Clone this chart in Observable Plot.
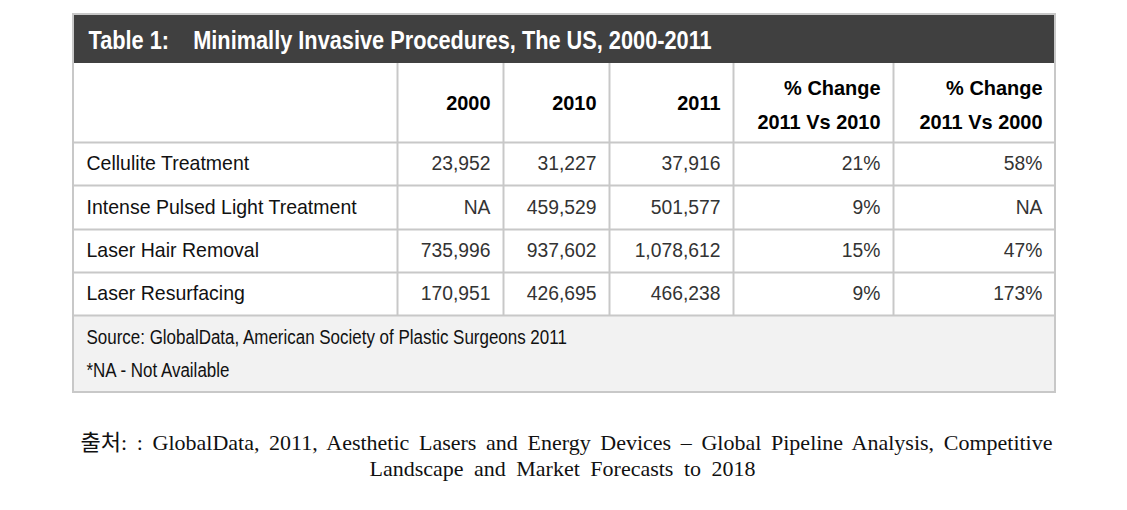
<!DOCTYPE html>
<html>
<head>
<meta charset="utf-8">
<script src="https://cdn.jsdelivr.net/npm/d3@7"></script>
<script src="https://cdn.jsdelivr.net/npm/@observablehq/plot@0.6"></script>
<style>
  html, body { margin: 0; padding: 0; background: #fff; }
</style>
</head>
<body>
<div id="chart"></div>
<script>
// ---- data ----
const title = "Table 1:    Minimally Invasive Procedures, The US, 2000-2011";
const columnHeaders = ["", "2000", "2010", "2011", "% Change\n2011 Vs 2010", "% Change\n2011 Vs 2000"];
const procedures = ["Cellulite Treatment", "Intense Pulsed Light Treatment", "Laser Hair Removal", "Laser Resurfacing"];
const values2000 = [23952, null, 735996, 170951];
const values2010 = [31227, 459529, 937602, 426695];
const values2011 = [37916, 501577, 1078612, 466238];
const change2011vs2010 = [21, 9, 15, 9];
const change2011vs2000 = [58, null, 47, 173];
const notes = ["Source: GlobalData, American Society of Plastic Surgeons 2011", "*NA - Not Available"];
const captionLines = [
  "출처: : GlobalData, 2011, Aesthetic Lasers and Energy Devices – Global Pipeline Analysis, Competitive",
  "Landscape and Market Forecasts to 2018"
];

// ---- layout (pixels) ----
const W = 1127, H = 510;
const colEdges = [73, 397, 503, 609, 733, 893, 1055];
const tableTop = 14, titleBottom = 63;
const rowEdges = [63, 142, 185, 229, 272, 315];
const tableBottom = 392;
const pad = 13;
const sans = "'Liberation Sans', Arial, sans-serif";
const grid = "#c8c8c8";

const fmtNum = v => v == null ? "NA" : d3.format(",")(v);
const fmtPct = v => v == null ? "NA" : v + "%";

// build cell table
const cells = [];
procedures.forEach((p, i) => {
  const yc = (rowEdges[i + 1] + rowEdges[i + 2]) / 2;
  cells.push({x: colEdges[0] + pad, y: yc - 0.5, text: p, fill: "#111"});
  const vals = [fmtNum(values2000[i]), fmtNum(values2010[i]), fmtNum(values2011[i]), fmtPct(change2011vs2010[i]), fmtPct(change2011vs2000[i])];
  vals.forEach((t, j) => cells.push({x: colEdges[j + 2] - pad, y: yc - 0.5, text: t, fill: "#333"}));
});
const headerMid = (rowEdges[0] + rowEdges[1]) / 2;
const headerCells = columnHeaders
  .map((h, j) => ({x: colEdges[j + 1] - pad, y: h.includes("\n") ? headerMid - 2 : headerMid - 3.5, text: h}))
  .filter(d => d.text);
const hLines = rowEdges.slice(1).map(y => ({y}));
const vLines = colEdges.slice(1, -1).map(x => ({x}));
const noteRows = notes.map((t, i) => ({x: colEdges[0] + pad, y: 337 + i * 33, text: t}));
const captionRows = captionLines.map((t, i) => ({text: t, y: 442 + i * 26}));

const chart = Plot.plot({
  width: W, height: H, margin: 0,
  x: {type: "identity", axis: null},
  y: {type: "identity", axis: null},
  style: {background: "#fff"},
  marks: [
    // source band
    Plot.rect([{}], {x1: colEdges[0], x2: colEdges[6], y1: rowEdges[5], y2: tableBottom, fill: "#f2f2f2"}),
    // grid
    Plot.ruleY(hLines, {y: "y", x1: colEdges[0], x2: colEdges[6], stroke: grid, strokeWidth: 2}),
    Plot.ruleX(vLines, {x: "x", y1: rowEdges[0], y2: rowEdges[5], stroke: grid, strokeWidth: 2}),
    Plot.rect([{}], {x1: colEdges[0], x2: colEdges[6], y1: tableTop, y2: tableBottom, fill: "none", stroke: grid, strokeWidth: 2}),
    // title bar
    Plot.rect([{}], {x1: colEdges[0] + 1, x2: colEdges[6] - 1, y1: tableTop + 1, y2: titleBottom, fill: "#404040"}),
    Plot.text([title], {x: 88, y: 40, text: d => d, textAnchor: "start", fill: "#fff", fontSize: 25, fontWeight: "bold", fontFamily: sans}),
    // header
    Plot.text(headerCells, {x: "x", y: "y", text: "text", textAnchor: "end", fill: "#000", fontSize: 21, fontWeight: "bold", fontFamily: sans, lineHeight: 1.62}),
    // body
    Plot.text(cells, {x: "x", y: "y", text: "text", textAnchor: "end", fill: "fill", fontSize: 21, fontFamily: sans}),
    // notes
    Plot.text(noteRows, {x: "x", y: "y", text: "text", textAnchor: "start", fill: "#111", fontSize: 19.5, fontFamily: sans}),
    // caption
    Plot.text(captionRows, {x: (d, i) => i === 0 ? 80 : 369, y: "y", text: "text", textAnchor: "start", fill: "#111", fontSize: 22,
      fontFamily: "'Liberation Serif', 'Noto Sans CJK KR', serif"})
  ]
});

document.getElementById("chart").appendChild(chart);

// condense the Arial-Narrow-like texts, left-align labels, justify caption by word spacing
const condense = (el, k) => {
  const tr = el.getAttribute("transform") || "";
  el.setAttribute("transform", tr + ` scale(${k},1)`);
};
d3.select(chart).selectAll("text").each(function() {
  const t = this.textContent;
  if (t === title) condense(this, 0.87);
  else if (procedures.includes(t)) { this.setAttribute("text-anchor", "start"); condense(this, 0.93); }
  else if (notes.includes(t)) condense(this, 0.87);
  else if (t === captionLines[0] || t === captionLines[1]) {
    const target = t === captionLines[0] ? 972 : 386;
    const nat = this.getComputedTextLength();
    const spaces = (t.match(/ /g) || []).length;
    this.setAttribute("word-spacing", Math.max(0, (target - nat) / spaces));
  }
});
// header and numeric cells: condense each text element
d3.select(chart).selectAll("g[aria-label='text']").each(function(_, gi) {
  // gi order: title(0), header(1), body(2), notes(3), caption(4)
  if (gi === 1) d3.select(this).selectAll("text").each(function() { condense(this, 0.95); });
  if (gi === 2) d3.select(this).selectAll("text").each(function() {
    if (!procedures.includes(this.textContent)) condense(this, 0.92);
  });
});
</script>
</body>
</html>
